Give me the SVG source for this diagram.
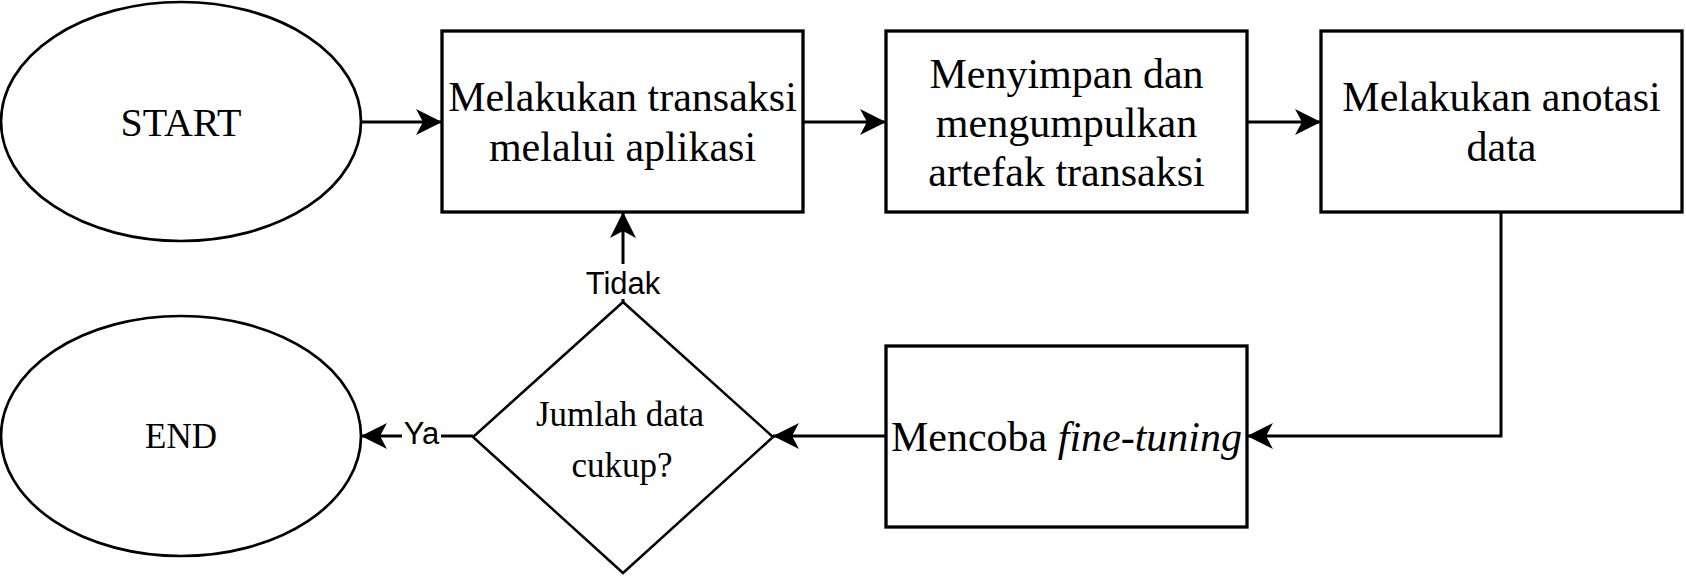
<svg xmlns="http://www.w3.org/2000/svg" width="1686" height="576" viewBox="0 0 1686 576">
<defs>
<marker id="arr" viewBox="0 0 26 26" refX="26" refY="13" markerWidth="26" markerHeight="26" markerUnits="userSpaceOnUse" orient="auto">
<path d="M26,13 L0,0 L7,13 L0,26 Z" fill="#000"/>
</marker>
<style>
.box{fill:#fff;stroke:#000;stroke-width:3.3}
.ell{fill:#fff;stroke:#000;stroke-width:2.7}
.dia{fill:#fff;stroke:#000;stroke-width:2.5}
.t{font-family:"Liberation Serif","Times New Roman",serif;fill:#000;text-anchor:middle}
.lbl{font-family:"Liberation Sans",Arial,sans-serif;font-size:31px;fill:#000;text-anchor:middle}
.c{fill:none;stroke:#000;stroke-width:3}
</style>
</defs>
<rect width="1686" height="576" fill="#fff"/>
<g id="connectors">
<path class="c" d="M361,122 L442,122" marker-end="url(#arr)"/>
<path class="c" d="M803,122 L886,122" marker-end="url(#arr)"/>
<path class="c" d="M1247,122 L1321,122" marker-end="url(#arr)"/>
<path class="c" d="M1501,212 L1501,436 L1247,436" marker-end="url(#arr)"/>
<path class="c" d="M886,436 L773,436" marker-end="url(#arr)"/>
<path class="c" d="M473,436 L361,436" marker-end="url(#arr)"/>
<path class="c" d="M623,302 L623,212" marker-end="url(#arr)"/>
<rect x="585" y="264" width="76" height="35" fill="#fff"/>
<text class="lbl" x="623" y="294">Tidak</text>
<rect x="402" y="418" width="39" height="33" fill="#fff"/>
<text class="lbl" x="421.5" y="444">Ya</text>
</g>
<g id="start">
<ellipse class="ell" cx="181" cy="121.5" rx="180" ry="119.5"/>
<text class="t" x="181" y="135.5" font-size="40">START</text>
</g>
<g id="transaksi">
<rect class="box" x="442" y="31" width="361" height="181"/>
<text class="t" font-size="42"><tspan x="622.5" y="111">Melakukan transaksi</tspan><tspan x="622.5" y="161">melalui aplikasi</tspan></text>
</g>
<g id="menyimpan">
<rect class="box" x="886" y="31" width="361" height="181"/>
<text class="t" font-size="42"><tspan x="1066.5" y="87.5">Menyimpan dan</tspan><tspan x="1066.5" y="136.5">mengumpulkan</tspan><tspan x="1066.5" y="185.5">artefak transaksi</tspan></text>
</g>
<g id="anotasi">
<rect class="box" x="1321" y="31" width="361" height="181"/>
<text class="t" font-size="42"><tspan x="1501.5" y="111">Melakukan anotasi</tspan><tspan x="1501.5" y="161">data</tspan></text>
</g>
<g id="finetuning">
<rect class="box" x="886" y="346" width="361" height="181"/>
<text class="t" x="1066.5" y="451" font-size="42">Mencoba <tspan font-style="italic">fine-tuning</tspan></text>
</g>
<g id="decision">
<polygon class="dia" points="623,302 773,437 623,573 473,437"/>
<text class="t" font-size="35"><tspan x="620" y="426">Jumlah data</tspan><tspan x="622" y="477">cukup?</tspan></text>
</g>
<g id="end">
<ellipse class="ell" cx="181" cy="436" rx="180" ry="120"/>
<text class="t" x="181" y="448" font-size="35">END</text>
</g>
</svg>
